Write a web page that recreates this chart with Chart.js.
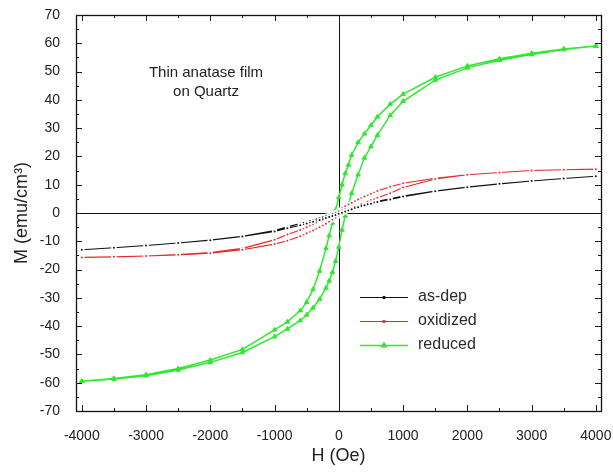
<!DOCTYPE html>
<html>
<head>
<meta charset="utf-8">
<title>Thin anatase film on Quartz - M(H)</title>
<script src="https://cdn.jsdelivr.net/npm/chart.js@4.4.1/dist/chart.umd.min.js"></script>
<style>
  html, body { margin: 0; padding: 0; background: #fff; }
  #wrap { width: 613px; height: 472px; }
</style>
</head>
<body>
<div id="wrap"><canvas id="loops" width="613" height="472"></canvas></div>
<script>
// field sweep, descending branch (Oe)
const fieldDown = [4000, 3500, 3000, 2500, 2000, 1500, 1000, 800, 600, 500, 400, 300, 200, 150, 100, 50, 0,
    -50, -100, -150, -200, -300, -400, -500, -600, -800, -1000, -1500, -2000, -2500, -3000, -3500, -4000];
// field sweep, ascending branch (Oe)
const fieldUp = [-4000, -3500, -3000, -2500, -2000, -1500, -1000, -800, -600, -500, -400, -300, -200, -150, -100, -50, 0,
    50, 100, 150, 200, 300, 400, 500, 600, 800, 1000, 1500, 2000, 2500, 3000, 3500, 4000];

// magnetisation (emu/cm3)
const asDepDown = [13, 12.2, 11.3, 10.3, 9.2, 7.8, 6, 5, 4.1, 3.6, 3, 2.4, 1.8, 1.5, 1.2, 0.9, 0.5,
    0.1, -0.3, -0.7, -1.1, -1.8, -2.5, -3.1, -3.7, -4.9, -6.2, -8.2, -9.6, -10.6, -11.5, -12.3, -13];
const asDepUp = [-13, -12.3, -11.5, -10.6, -9.6, -8.3, -6.5, -5.4, -4.3, -3.7, -3.1, -2.5, -1.8, -1.4, -1.1, -0.7, -0.3,
    0.1, 0.5, 0.9, 1.3, 2, 2.7, 3.3, 3.9, 4.8, 5.8, 7.7, 9.1, 10.3, 11.3, 12.2, 13];

const oxidizedDown = [15.5, 15.3, 15, 14.3, 13.5, 12.3, 10.5, 9.3, 7.8, 6.8, 5.8, 4.8, 3.6, 3, 2.4, 1.7, 1,
    0.2, -0.5, -1.2, -1.8, -3, -4, -5, -6, -7.6, -9.5, -12.5, -14, -14.7, -15.2, -15.5, -15.7];
const oxidizedUp = [-15.7, -15.5, -15.2, -14.8, -14.2, -13, -11, -9.8, -8.2, -7.2, -6.2, -5, -3.8, -3.1, -2.4, -1.7, -1,
    -0.3, 0.4, 1, 1.6, 2.7, 3.6, 4.5, 5.4, 7, 9, 12, 13.5, 14.3, 15, 15.3, 15.5];

const reducedDown = [59, 58, 56.5, 54.5, 52, 48, 42, 38.5, 34, 31, 28, 25, 20.5, 17, 14, 10, 5.5,
    1, -3.5, -8, -12.5, -20.5, -27, -31.5, -34.5, -38.5, -41.3, -48.2, -52, -55, -57.2, -58.5, -59.5];
const reducedUp = [-59.5, -58.7, -57.5, -55.5, -52.8, -49.3, -43.7, -41, -38, -36, -33.5, -30.5, -26.5, -24, -21, -17, -12,
    -6, -1, 3, 7, 13.5, 19.5, 23.5, 27.5, 34.5, 39.5, 47, 51.3, 54, 56, 57.8, 59];

const seriesNames = ['as-dep', 'oxidized', 'reduced'];
const xTicks = [-4000, -3000, -2000, -1000, 0, 1000, 2000, 3000, 4000];
const yTicks = [70, 60, 50, 40, 30, 20, 10, 0, -10, -20, -30, -40, -50, -60, -70];
const noteLines = ['Thin anatase film', 'on Quartz'];

const FONT = '"Liberation Sans", Arial, sans-serif';

function loop(down, up) {
    const pts = fieldDown.map((h, i) => ({ x: h, y: down[i] }));
    return pts.concat(fieldUp.map((h, i) => ({ x: h, y: up[i] })));
}

// small symbols get a white ring so the line breaks around them
function seriesStyle(color, marker, radius, width, ring) {
    return {
        borderColor: color,
        backgroundColor: color,
        borderWidth: width,
        pointStyle: marker,
        pointRadius: radius,
        pointBackgroundColor: color,
        pointBorderColor: ring ? '#ffffff' : color,
        pointBorderWidth: ring ? 1.6 : 1,
        showLine: true,
        tension: 0,
        fill: false
    };
}

const datasets = [
    Object.assign({ label: seriesNames[0], data: loop(asDepDown, asDepUp) }, seriesStyle('#111111', 'circle', 1.8, 1.1, true)),
    Object.assign({ label: seriesNames[1], data: loop(oxidizedDown, oxidizedUp) }, seriesStyle('#e8262b', 'circle', 1.8, 1.1, true)),
    Object.assign({ label: seriesNames[2], data: loop(reducedDown, reducedUp) }, seriesStyle('#2fe82f', 'triangle', 2.6, 1.5, false))
];

// inward ticks on all four sides, minor ticks halfway between labels
function drawTicks(ctx, area, xs, ys) {
    ctx.save();
    ctx.strokeStyle = '#1a1a1a';
    ctx.lineWidth = 1;
    ctx.beginPath();
    for (let v = -4000; v <= 4000; v += 500) {
        const px = Math.round(xs.getPixelForValue(v)) + 0.5;
        const len = v % 1000 === 0 ? 6 : 3;
        ctx.moveTo(px, area.bottom); ctx.lineTo(px, area.bottom - len);
        ctx.moveTo(px, area.top); ctx.lineTo(px, area.top + len);
    }
    for (let v = -70; v <= 70; v += 5) {
        const py = Math.round(ys.getPixelForValue(v)) + 0.5;
        const len = v % 10 === 0 ? 6 : 3;
        ctx.moveTo(area.left, py); ctx.lineTo(area.left + len, py);
        ctx.moveTo(area.right, py); ctx.lineTo(area.right - len, py);
    }
    ctx.stroke();
    ctx.restore();
}

const framePlugin = {
    id: 'frame',
    beforeDatasetsDraw(chart) {
        const { ctx, chartArea: a, scales: { x, y } } = chart;
        const x0 = Math.round(x.getPixelForValue(0)) + 0.5;
        const y0 = Math.round(y.getPixelForValue(0)) + 0.5;
        ctx.save();
        ctx.strokeStyle = '#111';
        ctx.lineWidth = 1;
        ctx.beginPath();
        ctx.moveTo(x0, a.top); ctx.lineTo(x0, a.bottom);
        ctx.moveTo(a.left, y0); ctx.lineTo(a.right, y0);
        ctx.stroke();
        ctx.restore();
    },
    afterDraw(chart) {
        const { ctx, chartArea: a, scales: { x, y } } = chart;
        ctx.save();
        // plot frame
        ctx.strokeStyle = '#111';
        ctx.lineWidth = 1.3;
        ctx.strokeRect(Math.round(a.left) + 0.5, Math.round(a.top) + 0.5,
            Math.round(a.right - a.left), Math.round(a.bottom - a.top));
        ctx.restore();

        drawTicks(ctx, a, x, y);

        ctx.save();
        ctx.fillStyle = '#222';
        ctx.textAlign = 'center';
        ctx.textBaseline = 'middle';

        // axis titles
        ctx.font = '18px ' + FONT;
        ctx.fillText('H (Oe)', (a.left + a.right) / 2, 456);
        ctx.save();
        ctx.translate(22, (a.top + a.bottom) / 2);
        ctx.rotate(-Math.PI / 2);
        ctx.fillText('M (emu/cm³)', 0, 0);
        ctx.restore();

        // sample note
        ctx.font = '15px ' + FONT;
        ctx.fillText(noteLines[0], 206, 73);
        ctx.fillText(noteLines[1], 206, 92);

        // legend
        const rows = [297, 321, 345];
        ctx.font = '16px ' + FONT;
        ctx.textAlign = 'left';
        chart.data.datasets.forEach((ds, i) => {
            const yy = rows[i] + 0.5;
            ctx.strokeStyle = ds.borderColor;
            ctx.lineWidth = ds.borderWidth;
            ctx.beginPath();
            ctx.moveTo(360, yy); ctx.lineTo(408, yy);
            ctx.stroke();
            ctx.fillStyle = ds.borderColor;
            ctx.strokeStyle = ds.borderColor;
            Chart.helpers.drawPoint(ctx, {
                pointStyle: ds.pointStyle,
                radius: ds.pointStyle === 'triangle' ? ds.pointRadius : 1.2,
                borderWidth: 1
            }, 384, yy);
            ctx.fillStyle = '#2a2a33';
            ctx.fillText(ds.label, 418, rows[i]);
        });
        ctx.restore();
    }
};

new Chart(document.getElementById('loops'), {
    type: 'scatter',
    data: { datasets: datasets },
    options: {
        responsive: false,
        animation: false,
        layout: { padding: { top: 15, right: 12, bottom: 0, left: 0 } },
        plugins: {
            legend: { display: false },
            tooltip: { enabled: false }
        },
        scales: {
            x: {
                type: 'linear',
                min: -4090,
                max: 4080,
                grid: { display: false },
                border: { display: false },
                afterBuildTicks: s => { s.ticks = xTicks.map(v => ({ value: v })); },
                afterFit: s => { s.height = 61; s.paddingLeft = 0; s.paddingRight = 0; },
                ticks: {
                    autoSkip: false,
                    maxRotation: 0,
                    padding: 9,
                    color: '#222',
                    font: { family: FONT, size: 14 },
                    callback: v => String(v)
                }
            },
            y: {
                type: 'linear',
                min: -70,
                max: 70,
                grid: { display: false },
                border: { display: false },
                afterBuildTicks: s => { s.ticks = yTicks.map(v => ({ value: v })); },
                afterFit: s => { s.width = 76; s.paddingTop = 0; s.paddingBottom = 0; },
                ticks: {
                    padding: 8,
                    color: '#222',
                    font: { family: FONT, size: 14 },
                    callback: v => String(v)
                }
            }
        }
    },
    plugins: [framePlugin]
});
</script>
</body>
</html>
